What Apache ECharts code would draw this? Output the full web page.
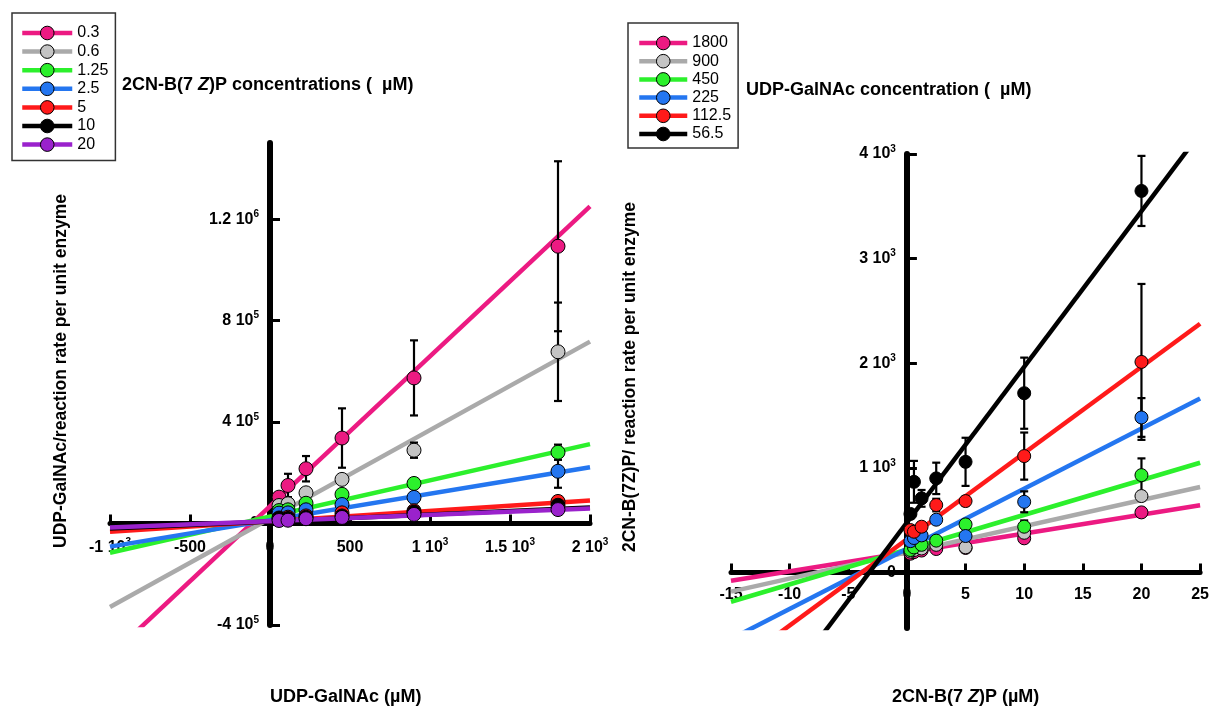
<!DOCTYPE html>
<html>
<head>
<meta charset="utf-8">
<title>Hanes plots</title>
<script src="https://cdn.jsdelivr.net/npm/echarts@6/dist/echarts.min.js"></script>
<style>
  html, body { margin: 0; padding: 0; background: #fff; }
  #chart { width: 1212px; height: 709px; }
</style>
</head>
<body>
<div id="chart"></div>
<script>
const FONT = "'Liberation Sans', Arial, Helvetica, sans-serif";

// ---- left panel: UDP-GalNAc / v, one series per 2CN-B(7Z)P concentration
const udpX = [56.5, 112.5, 225, 450, 900, 1800];
const leftNames = ['0.3', '0.6', '1.25', '2.5', '5', '10', '20'];
const y_03 = [104000, 150000, 216000, 337000, 574000, 1093000];
const e_03 = [0, 46000, 50000, 117000, 148000, 335000];
const y_06 = [71000, 78000, 121000, 174000, 289000, 677000];
const e_06 = [0, 0, 0, 0, 30000, 194000];
const y_125 = [51000, 54000, 80000, 115000, 158000, 281000];
const e_125 = [0, 0, 0, 0, 0, 30000];
const y_25 = [41000, 42000, 54000, 75000, 103000, 206000];
const e_25 = [0, 0, 0, 0, 0, 65000];
const y_5 = [22000, 25000, 30000, 42000, 50000, 87000];
const e_5 = [0, 0, 0, 0, 0, 10000];
const y_10 = [20000, 20000, 25000, 30000, 45000, 72000];
const e_10 = [0, 0, 0, 0, 0, 0];
const y_20 = [12000, 13000, 19000, 24000, 36000, 55000];
const e_20 = [0, 0, 0, 0, 0, 0];
// fitted lines, read at x = -1000 and x = 2000
const leftFitX = [-1000, 2000];
const fit_03 = [-523000, 1250000];
const fit_06 = [-329000, 717000];
const fit_125 = [-115000, 313000];
const fit_25 = [-91000, 222000];
const fit_5 = [-32000, 91000];
const fit_10 = [-20000, 63000];
const fit_20 = [-16000, 59000];
const leftXTicks = [-1000, -500, 0, 500, 1000, 1500, 2000];
const leftXLabels = ['-1 10^3', '-500', '0', '500', '1 10^3', '1.5 10^3', '2 10^3'];
const leftYTicks = [-400000, 0, 400000, 800000, 1200000];
const leftYLabels = ['-4 10^5', '0', '4 10^5', '8 10^5', '1.2 10^6'];

// ---- right panel: 2CN-B(7Z)P / v, one series per UDP-GalNAc concentration
const inhX = [0.3, 0.6, 1.25, 2.5, 5, 10, 20];
const rightNames = ['1800', '900', '450', '225', '112.5', '56.5'];
const r_1800 = [180, 195, 210, 225, 235, 327, 575];
const re_1800 = [0, 0, 0, 0, 0, 0, 0];
const r_900 = [200, 215, 230, 265, 241, 380, 731];
const re_900 = [0, 0, 0, 0, 0, 0, 0];
const r_450 = [215, 240, 265, 305, 460, 438, 931];
const re_450 = [0, 0, 0, 30, 0, 60, 160];
const r_225 = [300, 330, 355, 505, 349, 676, 1482];
const re_225 = [0, 0, 0, 40, 0, 100, 185];
const r_1125 = [406, 390, 438, 645, 683, 1113, 2013];
const re_1125 = [0, 0, 0, 60, 40, 225, 745];
const r_565 = [560, 867, 709, 900, 1058, 1714, 3647];
const re_565 = [0, 200, 80, 150, 230, 340, 335];
const rightFitX = [-15, 25];
const rfit_1800 = [-78, 643];
const rfit_900 = [-182, 818];
const rfit_450 = [-279, 1049];
const rfit_225 = [-635, 1664];
const rfit_1125 = [-918, 2378];
const rfit_565 = [-1754, 4198];
const rightYTicks = [0, 1000, 2000, 3000, 4000];
const rightYLabels = ['0', '1 10^3', '2 10^3', '3 10^3', '4 10^3'];

const PINK = '#ec1a82', GRAY = '#aaaaaa', GRAYPT = '#c4c4c4', GREEN = '#2cf02c',
      BLUE = '#2476f0', RED = '#ff1a1a', BLACK = '#000000', PURPLE = '#9a22cc';

// grid boxes (px)
const G0 = { left: 110, right: 622, top: 143, bottom: 84 };
const G1 = { left: 731, right: 10, top: 154, bottom: 81 };
const H = 709;

const richLabel = {
  b: { fontSize: 16, fontWeight: 'bold', fontFamily: FONT, color: '#000', lineHeight: 20 },
  s: { fontSize: 10, fontWeight: 'bold', fontFamily: FONT, color: '#000', lineHeight: 11, verticalAlign: 'top' }
};
function supText(s) {
  const parts = s.split('^');
  return parts[1] ? '{b|' + parts[0] + '}{s|' + parts[1] + '}' : '{b|' + parts[0] + '}';
}
function labelFrom(values, labels) {
  return v => {
    const i = values.indexOf(v);
    return i < 0 ? '' : supText(labels[i]);
  };
}

function errorBars(params, api) {
  const x = api.value(0), y = api.value(1), e = api.value(2);
  const hi = api.coord([x, y + e]);
  const lo = api.coord([x, y - e]);
  const w = 4;
  const style = { stroke: '#000', lineWidth: 2.2 };
  return {
    type: 'group',
    children: [
      { type: 'line', shape: { x1: hi[0], y1: hi[1], x2: lo[0], y2: lo[1] }, style },
      { type: 'line', shape: { x1: hi[0] - w, y1: hi[1], x2: hi[0] + w, y2: hi[1] }, style },
      { type: 'line', shape: { x1: lo[0] - w, y1: lo[1], x2: lo[0] + w, y2: lo[1] }, style }
    ]
  };
}

const series = [];
function addGroup(name, axis, color, ptColor, xs, ys, errs, fitX, fitY, size) {
  series.push({
    type: 'line', name, xAxisIndex: axis, yAxisIndex: axis,
    data: [[fitX[0], fitY[0]], [fitX[1], fitY[1]]],
    symbol: 'circle', showSymbol: false, silent: true, clip: true, z: 2,
    lineStyle: { color, width: 4.5 },
    itemStyle: { color: ptColor, borderColor: '#000', borderWidth: 1 }
  });
  series.push({
    type: 'custom', name, xAxisIndex: axis, yAxisIndex: axis, z: 3, silent: true,
    data: xs.map((x, i) => [x, ys[i], errs[i]]).filter(d => d[2] > 0),
    renderItem: errorBars
  });
  series.push({
    type: 'scatter', name, xAxisIndex: axis, yAxisIndex: axis, z: 4,
    data: xs.map((x, i) => [x, ys[i]]),
    symbol: 'circle', symbolSize: size,
    itemStyle: { color: ptColor, borderColor: '#000', borderWidth: 1, opacity: 1 }
  });
}

addGroup('0.3', 0, PINK, PINK, udpX, y_03, e_03, leftFitX, fit_03, 14);
addGroup('0.6', 0, GRAY, GRAYPT, udpX, y_06, e_06, leftFitX, fit_06, 14);
addGroup('1.25', 0, GREEN, GREEN, udpX, y_125, e_125, leftFitX, fit_125, 14);
addGroup('2.5', 0, BLUE, BLUE, udpX, y_25, e_25, leftFitX, fit_25, 14);
addGroup('5', 0, RED, RED, udpX, y_5, e_5, leftFitX, fit_5, 14);
addGroup('10', 0, BLACK, BLACK, udpX, y_10, e_10, leftFitX, fit_10, 14);
addGroup('20', 0, PURPLE, PURPLE, udpX, y_20, e_20, leftFitX, fit_20, 14);

addGroup('1800', 1, PINK, PINK, inhX, r_1800, re_1800, rightFitX, rfit_1800, 13);
addGroup('900', 1, GRAY, GRAYPT, inhX, r_900, re_900, rightFitX, rfit_900, 13);
addGroup('450', 1, GREEN, GREEN, inhX, r_450, re_450, rightFitX, rfit_450, 13);
addGroup('225', 1, BLUE, BLUE, inhX, r_225, re_225, rightFitX, rfit_225, 13);
addGroup('112.5', 1, RED, RED, inhX, r_1125, re_1125, rightFitX, rfit_1125, 13);
addGroup('56.5', 1, BLACK, BLACK, inhX, r_565, re_565, rightFitX, rfit_565, 13);

function legendBox(names, left, top, padding, itemWidth, gap) {
  return {
    data: names, orient: 'vertical', left, top, padding,
    itemWidth, itemHeight: 17, itemGap: gap,
    borderColor: '#333', borderWidth: 1.5, borderRadius: 0,
    backgroundColor: '#fff', selectedMode: false,
    textStyle: { fontSize: 16, fontFamily: FONT, color: '#000' },
    lineStyle: { width: 4.5 },
    itemStyle: { borderColor: '#000', borderWidth: 1 }
  };
}

// axes are moved onto the zero lines with `offset` after the first layout
function axisX(grid, min, max, interval, margin, formatter) {
  return {
    type: 'value', gridIndex: grid, min, max, interval,
    axisLine: { onZero: false, lineStyle: { color: '#000', width: 5 } },
    axisTick: { inside: true, length: 9, lineStyle: { color: '#000', width: 3 } },
    axisLabel: { margin, formatter, rich: richLabel },
    splitLine: { show: false }
  };
}
function axisY(grid, min, max, ticks, formatter) {
  return {
    type: 'value', gridIndex: grid, min, max,
    axisLine: { onZero: false, lineStyle: { color: '#000', width: 6 } },
    axisTick: { inside: true, length: 10, customValues: ticks, lineStyle: { color: '#000', width: 3 } },
    axisLabel: { margin: 11, customValues: ticks, formatter, rich: richLabel },
    splitLine: { show: false }
  };
}

const titleRich = {
  n: { fontSize: 18, fontWeight: 'bold', fontFamily: FONT, color: '#000', lineHeight: 20 },
  i: { fontSize: 18, fontWeight: 'bold', fontStyle: 'italic', fontFamily: FONT, color: '#000', lineHeight: 20 }
};
function textTitle(text, left, top) {
  return { text, left, top, padding: 0, textStyle: { rich: titleRich } };
}

const option = {
  animation: false,
  backgroundColor: '#fff',
  textStyle: { fontFamily: FONT },
  title: [
    textTitle('{n|2CN-B(7 }{i|Z}{n|)P concentrations (  \u00b5M)}', 122, 75),
    textTitle('{n|UDP-GalNAc concentration (  \u00b5M)}', 746, 80),
    textTitle('{n|UDP-GalNAc (\u00b5M)}', 270, 687),
    textTitle('{n|2CN-B(7 }{i|Z}{n|)P (\u00b5M)}', 892, 687)
  ],
  legend: [
    legendBox(leftNames, 12, 13, [12, 7, 8, 8], 50, 2.6),
    legendBox(rightNames, 628, 23, [12, 7, 6, 9], 48, 2.2)
  ],
  grid: [G0, G1],
  xAxis: [
    axisX(0, -1000, 2000, 500, 14, labelFrom(leftXTicks, leftXLabels)),
    axisX(1, -15, 25, 5, 12, v => '{b|' + v + '}')
  ],
  yAxis: [
    axisY(0, -400000, 1500000, leftYTicks, labelFrom(leftYTicks, leftYLabels)),
    axisY(1, -530, 4000, rightYTicks, labelFrom(rightYTicks, rightYLabels))
  ],
  graphic: [
    {
      type: 'text', x: 61, y: 371, rotation: Math.PI / 2,
      style: { text: 'UDP-GalNAc/reaction rate per unit enzyme', font: 'bold 17.5px ' + FONT, fill: '#000', align: 'center', verticalAlign: 'middle' }
    },
    {
      type: 'text', x: 630, y: 377, rotation: Math.PI / 2,
      style: { text: '2CN-B(7Z)P/ reaction rate per unit enzyme', font: 'bold 17.5px ' + FONT, fill: '#000', align: 'center', verticalAlign: 'middle' }
    }
  ],
  series
};

const chart = echarts.init(document.getElementById('chart'));
chart.setOption(option);

// place each axis line (with its ticks and labels) through the other axis's zero
const z0 = chart.convertToPixel({ gridIndex: 0 }, [0, 0]);
const z1 = chart.convertToPixel({ gridIndex: 1 }, [0, 0]);
chart.setOption({
  xAxis: [{ offset: -((H - G0.bottom) - z0[1]) }, { offset: -((H - G1.bottom) - z1[1]) }],
  yAxis: [{ offset: -(z0[0] - G0.left) }, { offset: -(z1[0] - G1.left) }]
});
</script>
</body>
</html>
